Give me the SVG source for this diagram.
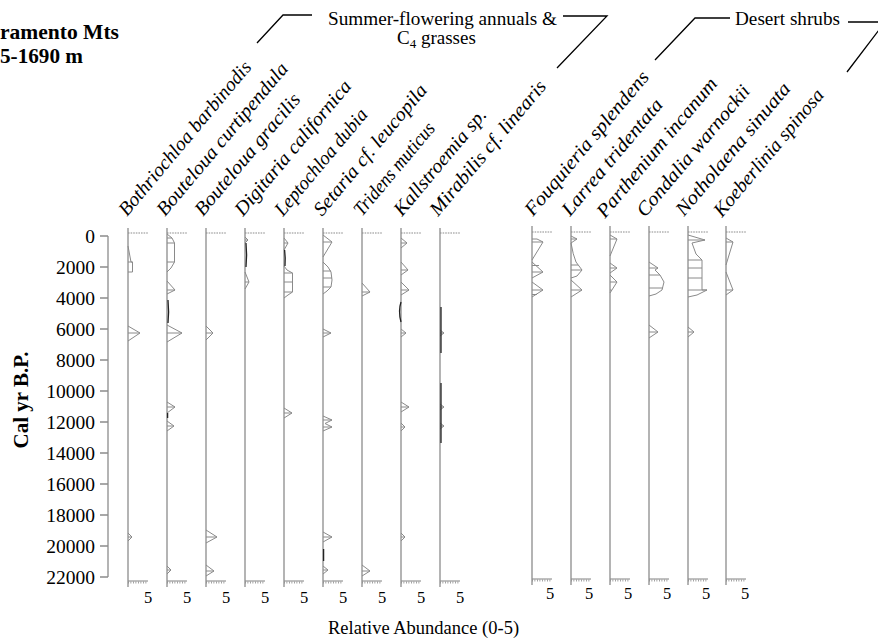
<svg xmlns="http://www.w3.org/2000/svg" width="878" height="643" viewBox="0 0 878 643">
<style>
text{font-family:"Liberation Serif","Times New Roman",serif;fill:#000}
.t{font-weight:bold;font-size:21.5px}
.g{font-size:19px}
.sp{font-style:italic;font-size:19.5px}
.yl{font-size:19.5px;text-anchor:end}
.five{font-size:16.5px;text-anchor:middle}
.ax{stroke:#8c8c8c;stroke-width:1.3;fill:none}
.top{stroke:#8c8c8c;stroke-width:1.2;stroke-dasharray:1.6 1;fill:none}
.bt{stroke:#8c8c8c;stroke-width:1.1;fill:none}
.btk{stroke:#8c8c8c;stroke-width:2;stroke-dasharray:0.8 1.7;fill:none}
.c{stroke:#8a8a8a;stroke-width:1;fill:none;stroke-linejoin:round}
.d{stroke:#222;stroke-width:1.3;fill:none}
.br{stroke:#000;stroke-width:1.3;fill:none}
</style>

<g id="title">
<text class="t" x="0" y="39" textLength="119" lengthAdjust="spacingAndGlyphs">ramento Mts</text>
<text class="t" x="0" y="63" textLength="83" lengthAdjust="spacingAndGlyphs">5-1690 m</text>
</g>

<g id="group-labels">
<text class="g" x="328" y="25" textLength="229" lengthAdjust="spacingAndGlyphs">Summer-flowering annuals &amp;</text>
<text class="g" x="397" y="44">C<tspan font-size="13" dy="4">4</tspan><tspan dy="-4"> grasses</tspan></text>
<text class="g" x="735" y="25" textLength="105" lengthAdjust="spacingAndGlyphs">Desert shrubs</text>
</g>

<g id="connectors">
<path class="br" d="M257,43 L283,15 L312,15"/>
<path class="br" d="M563,16 L607,16 L557,68"/>
<path class="br" d="M655,60 L695,18 L730,18"/>
<path class="br" d="M848,22 L885,22 L847,72"/>
</g>

<g id="y-axis">
<path class="ax" d="M108,236 V577"/>
<path class="ax" d="M100,236 H108 M100,267 H108 M100,298 H108 M100,329 H108 M100,360 H108 M100,391 H108 M100,422 H108 M100,453 H108 M100,484 H108 M100,515 H108 M100,546 H108 M100,577 H108"/>
<text class="yl" x="95" y="243">0</text>
<text class="yl" x="95" y="274">2000</text>
<text class="yl" x="95" y="305">4000</text>
<text class="yl" x="95" y="336">6000</text>
<text class="yl" x="95" y="367">8000</text>
<text class="yl" x="95" y="398">10000</text>
<text class="yl" x="95" y="429">12000</text>
<text class="yl" x="95" y="460">14000</text>
<text class="yl" x="95" y="491">16000</text>
<text class="yl" x="95" y="522">18000</text>
<text class="yl" x="95" y="553">20000</text>
<text class="yl" x="95" y="584">22000</text>
<text transform="translate(28,400) rotate(-90)" style="font-weight:bold;font-size:21px;text-anchor:middle">Cal yr B.P.</text>
</g>

<text id="x-title" x="328" y="634" style="font-size:18.5px">Relative Abundance (0-5)</text>

<!-- Group 1 columns -->
<g id="col-bothriochloa">
<text class="sp" transform="translate(127,217) rotate(-50)" textLength="195" lengthAdjust="spacingAndGlyphs">Bothriochloa barbinodis</text>
<path class="ax" d="M128,228 V587"/><path class="top" d="M128,233 H148"/><path class="bt" d="M128,581 H148"/><path class="btk" d="M128,582.5 H148"/>
<text class="five" x="148" y="603">5</text>
<path class="c" d="M128,246 L131,262 L132.5,262 L132.5,272 L128,272 M128,262 H132.5 M128,326 L140,333 L128,341 M128,333 H140 M128,533 L132,537 L128,541 M128,537 H132"/>
</g>
<g id="col-bouteloua-curtipendula">
<text class="sp" transform="translate(165,217) rotate(-50)" textLength="193" lengthAdjust="spacingAndGlyphs">Bouteloua curtipendula</text>
<path class="ax" d="M167,228 V587"/><path class="top" d="M167,233 H187"/><path class="bt" d="M167,581 H187"/><path class="btk" d="M167,582.5 H187"/>
<text class="five" x="187" y="603">5</text>
<path class="c" d="M167,234 L172,238 L174.5,243 L174.5,262 L171,268 L167,272 M167,238 H172 M167,243 H174.5 M167,262 H174.5 M167,281 L175,290 L167,294 M167,290 H175 M167,325 L182,333 L167,342 M167,333 H182 M167,402 L175,407 L167,413 M167,407 H175 M167,421 L174,426 L167,431 M167,426 H174 M167,566 L171,570 L167,574 M167,570 H171"/>
<path class="d" d="M168,300 L168.6,312 L168,323 M167.6,413 V418"/>
</g>
<g id="col-bouteloua-gracilis">
<text class="sp" transform="translate(203,217) rotate(-50)" textLength="153" lengthAdjust="spacingAndGlyphs">Bouteloua gracilis</text>
<path class="ax" d="M206,228 V587"/><path class="top" d="M206,233 H226"/><path class="bt" d="M206,581 H226"/><path class="btk" d="M206,582.5 H226"/>
<text class="five" x="226" y="603">5</text>
<path class="c" d="M206,326 L213,333 L206,340 M206,333 H213 M206,530 L217,537 L206,543 M206,537 H217 M206,565 L214,571 L206,576 M206,571 H214"/>
</g>
<g id="col-digitaria">
<text class="sp" transform="translate(243,217) rotate(-50)" textLength="170" lengthAdjust="spacingAndGlyphs">Digitaria californica</text>
<path class="ax" d="M245,228 V587"/><path class="top" d="M245,233 H265"/><path class="bt" d="M245,581 H265"/><path class="btk" d="M245,582.5 H265"/>
<text class="five" x="265" y="603">5</text>
<path class="c" d="M245,237 L248,240 L245,243 M245,240 H248 M245,272 L249,282 L245,289 M245,282 H249"/>
<path class="d" d="M246,243 L246.6,255 L246,267"/>
</g>
<g id="col-leptochloa">
<text class="sp" transform="translate(283,217) rotate(-50)" textLength="133" lengthAdjust="spacingAndGlyphs">Leptochloa dubia</text>
<path class="ax" d="M284,228 V587"/><path class="top" d="M284,233 H304"/><path class="bt" d="M284,581 H304"/><path class="btk" d="M284,582.5 H304"/>
<text class="five" x="304" y="603">5</text>
<path class="c" d="M284,238 L288,243 L284,250 M284,243 H288 M284,266 L287,270 L292.5,273 L292.5,292 L288,295 L284,298 M284,273 H292.5 M284,282 H292.5 M284,292 H292.5 M284,408 L292,413 L284,418 M284,413 H292"/>
<path class="d" d="M284.6,250 L285.2,258 L285,266"/>
</g>
<g id="col-setaria">
<text class="sp" transform="translate(322,217) rotate(-50)" textLength="165" lengthAdjust="spacingAndGlyphs">Setaria cf. leucopila</text>
<path class="ax" d="M323,228 V587"/><path class="top" d="M323,233 H343"/><path class="bt" d="M323,581 H343"/><path class="btk" d="M323,582.5 H343"/>
<text class="five" x="343" y="603">5</text>
<path class="c" d="M323,235 L332,242 L323,257 M323,242 H332 M323,262 L328,267 L331,272 L332,280 L331,287 L327,291 L323,294 M323,271 H331 M323,278 H332 M323,287 H331 M323,329 L331,333 L323,337 M323,333 H331 M323,416 L332,420 L325,423.5 L332,427 L323,431 M323,420 H332 M323,427 H332 M323,532 L332,537 L323,542 M323,537 H332 M323,566 L328,570 L323,574 M323,570 H328"/>
<path class="d" d="M323.6,549 V561"/>
</g>
<g id="col-tridens">
<text class="sp" transform="translate(362,217) rotate(-50)" textLength="115" lengthAdjust="spacingAndGlyphs">Tridens muticus</text>
<path class="ax" d="M362,228 V587"/><path class="top" d="M362,233 H382"/><path class="bt" d="M362,581 H382"/><path class="btk" d="M362,582.5 H382"/>
<text class="five" x="382" y="603">5</text>
<path class="c" d="M362,283 L370,292 L362,296 M362,292 H370 M362,565 L370,571 L362,576 M362,571 H370"/>
</g>
<g id="col-kallstroemia">
<text class="sp" transform="translate(402,217) rotate(-50)" textLength="133" lengthAdjust="spacingAndGlyphs">Kallstroemia sp.</text>
<path class="ax" d="M401,228 V587"/><path class="top" d="M401,233 H421"/><path class="bt" d="M401,581 H421"/><path class="btk" d="M401,582.5 H421"/>
<text class="five" x="421" y="603">5</text>
<path class="c" d="M401,238 L407,243 L401,248 M401,243 H407 M401,262 L408,270 L401,275 M401,270 H408 M401,282 L409,290 L401,295 M401,290 H409 M401,329 L406,333 L401,337 M401,333 H406 M401,402 L409,407 L401,412 M401,407 H409 M401,423 L405,427 L401,431 M401,427 H405 M401,533 L405,537 L401,541 M401,537 H405"/>
<path class="d" d="M401,302 Q398,311 401,322"/>
</g>
<g id="col-mirabilis">
<text class="sp" transform="translate(438,217) rotate(-50)" textLength="170" lengthAdjust="spacingAndGlyphs">Mirabilis cf. linearis</text>
<path class="ax" d="M440,228 V587"/><path class="top" d="M440,233 H460"/><path class="bt" d="M440,581 H460"/><path class="btk" d="M440,582.5 H460"/>
<text class="five" x="460" y="603">5</text>
<path class="c" d="M440,330 L444,333 L440,336 M440,333 H444 M440,404 L444,407 L440,410 M440,407 H444 M440,423 L444,426 L440,429 M440,426 H444"/>
<path class="d" d="M441,307 V353 M441,383 V443"/>
</g>

<!-- Desert shrubs -->
<g id="col-fouquieria">
<text class="sp" transform="translate(533,217) rotate(-50)" textLength="182" lengthAdjust="spacingAndGlyphs">Fouquieria splendens</text>
<path class="ax" d="M532,226 V585"/><path class="top" d="M532,232 H552"/><path class="bt" d="M532,579 H552"/><path class="btk" d="M532,580.5 H552"/>
<text class="five" x="550" y="599">5</text>
<path class="c" d="M532,239 L537,239 L543,242 L532,260 M532,242 H543 M532,262 L543,272 L532,278 M532,265.5 H539 M532,272 H543 M532,282 L543,290 L532,297 M532,290 H543 M532,294.5 H537"/>
</g>
<g id="col-larrea">
<text class="sp" transform="translate(570,217) rotate(-50)" textLength="146" lengthAdjust="spacingAndGlyphs">Larrea tridentata</text>
<path class="ax" d="M571,226 V585"/><path class="top" d="M571,232 H591"/><path class="bt" d="M571,579 H591"/><path class="btk" d="M571,580.5 H591"/>
<text class="five" x="589" y="599">5</text>
<path class="c" d="M571,236 L577,239 L571,243 M571,239 H577 M571,243 Q573,255 576,262 L582,270 L577,276 L571,278 M571,265 H578 M571,270 H582 M571,280 L582,290 L571,297 M571,290 H582"/>
</g>
<g id="col-parthenium">
<text class="sp" transform="translate(605,219) rotate(-50)" textLength="176" lengthAdjust="spacingAndGlyphs">Parthenium incanum</text>
<path class="ax" d="M610,226 V585"/><path class="top" d="M610,232 H630"/><path class="bt" d="M610,579 H630"/><path class="btk" d="M610,580.5 H630"/>
<text class="five" x="628" y="599">5</text>
<path class="c" d="M610,235 L617,239 L610,256 M610,239 H617 M610,263 L617,268 L610,273 M610,268 H617 M610,275 L617,282 L610,293 M610,282 H617 M610,290 H611.5"/>
</g>
<g id="col-condalia">
<text class="sp" transform="translate(645,218) rotate(-50)" textLength="165" lengthAdjust="spacingAndGlyphs">Condalia warnockii</text>
<path class="ax" d="M649,226 V585"/><path class="top" d="M649,232 H669"/><path class="bt" d="M649,579 H669"/><path class="btk" d="M649,580.5 H669"/>
<text class="five" x="667" y="599">5</text>
<path class="c" d="M649,262 L658,268 L655,270 L660,275 L664,282 L662,290 L656,294 L649,296 M649,268 H658 M649,275 H660 M649,288 H663 M649,325 L658,332 L649,338 M649,332 H658"/>
</g>
<g id="col-notholaena">
<text class="sp" transform="translate(684,217) rotate(-50)" textLength="167" lengthAdjust="spacingAndGlyphs">Notholaena sinuata</text>
<path class="ax" d="M688,226 V585"/><path class="top" d="M688,232 H708"/><path class="bt" d="M688,579 H708"/><path class="btk" d="M688,580.5 H708"/>
<text class="five" x="706" y="599">5</text>
<path class="c" d="M688,235 L705,240 L692,243 L696,254 L702,260 L702,290 L707,290 L697,295 L688,297 M688,240 H705 M688,260 H702 M688,268 H702 M688,278 H702 M688,290 H707 M688,327 L694,332 L688,337 M688,332 H694"/>
</g>
<g id="col-koeberlinia">
<text class="sp" transform="translate(722,218) rotate(-50)" textLength="160" lengthAdjust="spacingAndGlyphs">Koeberlinia spinosa</text>
<path class="ax" d="M726,226 V585"/><path class="top" d="M726,232 H746"/><path class="bt" d="M726,579 H746"/><path class="btk" d="M726,580.5 H746"/>
<text class="five" x="745" y="599">5</text>
<path class="c" d="M726,238 L733,242 L726,265 M726,242 H733 M726,272 L733,290 L726,295 M726,290 H733"/>
</g>
</svg>
